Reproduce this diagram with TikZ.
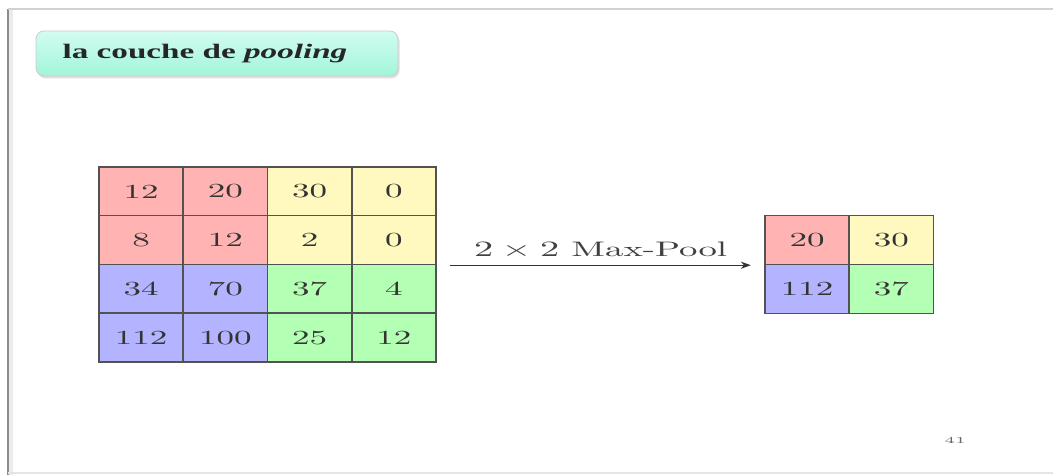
\documentclass[tikz,border=0pt]{standalone}
\usepackage{fontspec}
\usetikzlibrary{shadows,arrows.meta}
\newfontfamily\titlefont[BoldFont={Liberation Serif Bold},
  BoldItalicFont={Liberation Serif Bold Italic}]{Liberation Serif}
\definecolor{cellred}{HTML}{FFB3B3}
\definecolor{cellyellow}{HTML}{FFF9C0}
\definecolor{cellblue}{HTML}{B3B3FF}
\definecolor{cellgreen}{HTML}{B3FFB3}
\definecolor{titletop}{HTML}{D2FCF0}
\definecolor{titlebottom}{HTML}{A2F5DA}
\tikzset{
  cell/.style={draw=black!68, line width=0.75pt, minimum width=24.07pt,
    minimum height=24.37pt, inner sep=0pt, text=black!80,
    font=\fontsize{10}{12}\selectfont},
  rcell/.style={cell, fill=cellred},
  ycell/.style={cell, fill=cellyellow},
  bcell/.style={cell, fill=cellblue},
  gcell/.style={cell, fill=cellgreen},
  framerule/.style={line width=1pt},
}
\begin{document}
\begin{tikzpicture}[x=0.285714pt, y=-0.5pt, xscale=1.75, every node/.style={transform shape}]
\useasboundingbox (0,0) rectangle (1053,475);
\fill[white] (0,0) rectangle (1053,475);

% slide frame
\draw[framerule, draw=black!8, line width=3pt] (10,9) -- (10,475);
\draw[framerule, draw=black!45] (8,9) -- (8,475);
\draw[framerule, draw=black!18] (8,9) -- (1053,9);
\draw[framerule, draw=black!10] (8,473) -- (1053,473);

% title block
\node[draw=black!20, line width=0.4pt, rounded corners=4pt,
  top color=titletop, bottom color=titlebottom,
  minimum width=103.4pt, minimum height=22.5pt, inner sep=0pt,
  drop shadow={opacity=0.25, shadow xshift=0.8pt, shadow yshift=-1.2pt}]
  (title) at (217,53.5) {};
\node[anchor=west, inner sep=0pt, text=black!85, xscale=0.92,
  font=\titlefont\bfseries\fontsize{10.3}{12}\selectfont]
  (titletext) at (62,54) {la couche de \textit{pooling}};

% 4x4 input grid
\node[rcell] (a11) at (141.1,191.4) {12};
\node[rcell] (a12) at (225.4,191.4) {20};
\node[ycell] (a13) at (309.6,191.4) {30};
\node[ycell] (a14) at (393.9,191.4) {0};
\node[rcell] (a21) at (141.1,240.1) {8};
\node[rcell] (a22) at (225.4,240.1) {12};
\node[ycell] (a23) at (309.6,240.1) {2};
\node[ycell] (a24) at (393.9,240.1) {0};
\node[bcell] (a31) at (141.1,288.9) {34};
\node[bcell] (a32) at (225.4,288.9) {70};
\node[gcell] (a33) at (309.6,288.9) {37};
\node[gcell] (a34) at (393.9,288.9) {4};
\node[bcell] (a41) at (141.1,337.6) {112};
\node[bcell] (a42) at (225.4,337.6) {100};
\node[gcell] (a43) at (309.6,337.6) {25};
\node[gcell] (a44) at (393.9,337.6) {12};

% 2x2 pooled output
\node[rcell] (b11) at (807.1,240.1) {20};
\node[ycell] (b12) at (891.4,240.1) {30};
\node[bcell] (b21) at (807.1,288.9) {112};
\node[gcell] (b22) at (891.4,288.9) {37};

% pooling arrow
\draw[-{Stealth[length=5pt,width=3.6pt]}, line width=0.65pt, draw=black!80,
  shorten <=6.5pt, shorten >=6.5pt]
  (a24.south east) -- node[above=3pt, inner sep=0pt, text=black!75,
    font=\fontsize{10.5}{12}\selectfont] (poollabel) {$2\times 2$ Max-Pool}
  (b11.south west);

% page number
\node[text=black!60, font=\fontsize{4.5}{5}\selectfont] (pagenum) at (955,440) {41};
\end{tikzpicture}
\end{document}
